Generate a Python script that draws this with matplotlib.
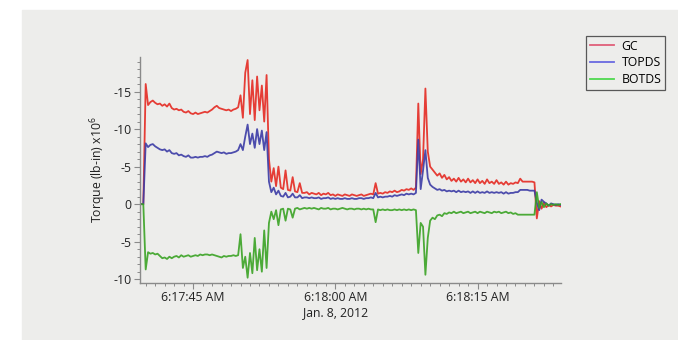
import numpy as np
import matplotlib
matplotlib.use("Agg")
import matplotlib.pyplot as plt
import matplotlib.dates as mdates
from matplotlib.lines import Line2D
from matplotlib.patches import Rectangle

plt.rcParams['font.family'] = ['Open Sans', 'DejaVu Sans']
plt.rcParams['mathtext.default'] = 'regular'

# samples every 0.25 s, first sample at 6:17:39.5
start = np.datetime64('2012-01-08T06:17:39.500')
step_ms = 250

gc = [0.0, 0.0,
      16.0, 13.2, 13.6, 13.8,
      13.5, 13.3, 13.4, 13.1,
      13.3, 13.0, 13.4, 12.8,
      12.6, 12.7, 12.5, 12.6,
      12.3, 12.2, 12.4, 12.1,
      12.0, 12.2, 12.0, 12.1,
      12.2, 12.3, 12.2, 12.4,
      12.6, 12.9, 13.1, 12.8,
      12.7, 12.6, 12.5, 12.6,
      12.4, 12.6, 12.7, 12.9,
      14.5, 11.5, 17.5, 19.2,
      12.0, 16.5, 11.2, 17.0,
      12.5, 15.8, 11.0, 17.2,
      6.0, 3.0, 4.8, 2.4,
      5.0, 2.2, 2.0, 4.5,
      1.9, 1.8, 3.6, 1.7,
      1.6, 2.8, 1.5, 1.5,
      1.6, 1.3, 1.5, 1.4,
      1.3, 1.5, 1.2, 1.4,
      1.3, 1.5, 1.2, 1.3,
      1.1, 1.3, 1.2, 1.1,
      1.3, 1.2, 1.1, 1.3,
      1.2, 1.1, 1.2, 1.3,
      1.1, 1.2, 1.3, 1.4,
      1.3, 2.8, 1.4, 1.5,
      1.4, 1.6, 1.5, 1.7,
      1.6, 1.8, 1.6, 1.7,
      1.9, 1.8, 2.0, 1.9,
      2.1, 1.9, 2.2, 13.4,
      4.0, 6.0, 15.4, 7.0,
      5.0, 4.6, 4.2, 3.8,
      4.1, 3.5, 3.9, 3.3,
      3.6, 3.1, 3.4, 3.0,
      3.5, 3.0, 3.3, 2.9,
      3.4, 2.9, 3.2, 2.8,
      3.3, 2.8, 3.1, 2.7,
      3.3, 2.8, 3.0, 2.7,
      3.2, 2.7, 2.9, 2.6,
      3.0, 2.6, 2.8, 2.7,
      2.9, 2.8, 3.4, 3.0,
      3.0, 3.0, 3.0, 3.0,
      2.9, -1.9, 0.4, -0.6,
      0.2, -0.4, -0.1, -0.3,
      -0.1, -0.2, -0.2, -0.3]

topds = [0.0, 0.0,
         8.1, 7.6, 7.9, 8.0,
         7.7, 7.5, 7.3, 7.2,
         7.3, 7.0, 7.2, 6.8,
         6.7, 6.8, 6.5, 6.6,
         6.4, 6.3, 6.5, 6.2,
         6.2, 6.3, 6.2, 6.3,
         6.3, 6.4, 6.3, 6.5,
         6.6, 6.8, 7.0, 6.9,
         6.8, 6.9, 6.7, 6.8,
         6.8, 6.9, 7.0, 7.2,
         8.0, 7.2, 9.0, 10.6,
         8.0, 9.4, 7.5, 10.0,
         8.0, 9.8, 7.2, 9.6,
         3.0, 1.6, 2.2, 1.3,
         1.8, 1.1, 1.0, 1.5,
         0.9, 1.0, 1.4, 0.9,
         0.9, 1.2, 0.8, 0.9,
         0.9, 0.8, 0.9, 0.8,
         0.8, 0.9, 0.7, 0.8,
         0.8, 0.9, 0.7, 0.8,
         0.7, 0.8, 0.7, 0.7,
         0.8, 0.7, 0.7, 0.8,
         0.7, 0.7, 0.8, 0.8,
         0.7, 0.8, 0.8, 0.9,
         0.8, 1.5, 0.9, 1.0,
         0.9, 1.0, 1.0, 1.1,
         1.0, 1.2, 1.1, 1.2,
         1.3, 1.2, 1.4, 1.3,
         1.4, 1.3, 1.5, 8.6,
         2.0, 4.5, 7.2, 3.5,
         2.6, 2.3, 2.1, 1.9,
         2.0, 1.8, 1.9, 1.7,
         1.8, 1.7, 1.8, 1.6,
         1.8, 1.6, 1.7, 1.6,
         1.7, 1.5, 1.7, 1.5,
         1.7, 1.5, 1.6, 1.5,
         1.7, 1.5, 1.6, 1.5,
         1.6, 1.5, 1.6, 1.4,
         1.6, 1.4, 1.5, 1.5,
         1.6, 1.6, 1.9, 1.9,
         1.9, 1.9, 1.8, 1.8,
         1.8, 0.2, -0.8, 0.6,
         0.3, 0.1, -0.2, 0.1,
         0.0, -0.1, 0.0, -0.1]

botds = [0.0, 0.0,
         -8.7, -6.4, -6.6, -6.5,
         -6.7, -6.6, -6.9, -7.2,
         -7.1, -7.3, -7.0, -7.2,
         -7.0, -6.9, -7.1, -6.8,
         -7.0, -6.9, -6.8, -7.0,
         -6.9, -6.8, -6.9, -6.7,
         -6.8, -6.7, -6.7, -6.8,
         -6.7, -6.8, -6.9, -7.0,
         -7.1, -6.9, -7.0, -6.9,
         -6.9, -6.8, -6.9, -6.8,
         -4.0, -8.5, -7.0, -9.8,
         -6.5, -9.2, -4.5, -8.8,
         -6.0, -9.0, -3.5, -8.5,
         -2.5, -1.0, -2.0, -0.8,
         -2.8, -0.7, -0.6, -2.2,
         -0.6, -0.7, -1.8, -0.6,
         -0.5, -0.7, -0.6, -0.5,
         -0.6, -0.5, -0.6, -0.5,
         -0.6, -0.7, -0.5, -0.6,
         -0.6, -0.5, -0.7, -0.6,
         -0.6, -0.7, -0.6, -0.5,
         -0.6, -0.7, -0.6, -0.6,
         -0.7, -0.6, -0.6, -0.7,
         -0.6, -0.7, -0.6, -0.7,
         -0.7, -2.4, -0.7, -0.8,
         -0.7, -0.8, -0.7, -0.8,
         -0.8, -0.7, -0.8, -0.7,
         -0.8, -0.7, -0.8, -0.7,
         -0.8, -0.7, -0.8, -6.5,
         -2.5, -3.0, -9.4, -4.5,
         -2.2, -1.8, -2.0, -1.5,
         -1.4, -1.6, -1.2, -1.3,
         -1.1, -1.2, -1.0, -1.2,
         -1.1, -1.0, -1.2, -1.1,
         -1.0, -1.2, -1.1, -1.0,
         -1.2, -1.0, -1.1, -1.2,
         -1.0, -1.1, -1.2, -1.0,
         -1.1, -1.0, -1.2, -1.1,
         -1.0, -1.2, -1.1, -1.3,
         -1.2, -1.4, -1.4, -1.4,
         -1.4, -1.4, -1.4, -1.4,
         -1.4, 1.6, -0.5, 0.3,
         -0.4, 0.1, -0.2, 0.0,
         -0.1, 0.0, -0.1, 0.0]

series_names = ['GC', 'TOPDS', 'BOTDS']
line_colors = ['#e52a22', '#3b3ba6', '#3aa324']
legend_colors = ['#e0607a', '#6a6ae0', '#4fd84f']

y_ticks = [15, 10, 5, 0, -5, -10]
y_tick_labels = ['-15', '-10', '-5', '0', '-5', '-10']


def times_for(vals):
    return start + np.arange(len(vals)) * np.timedelta64(step_ms, 'ms')


fig = plt.figure(figsize=(6.78, 3.40), dpi=100)
fig.patch.set_facecolor('white')
# grey backing panel
fig.patches.append(Rectangle((22 / 678, 0), 1 - 22 / 678, 1 - 10 / 340,
                             transform=fig.transFigure, color='#ededeb',
                             zorder=-10))

ax = fig.add_axes([140 / 678, 57 / 340, 421 / 678, 226 / 340])
ax.set_facecolor('none')

for vals, c in zip([gc, topds, botds], line_colors):
    ax.plot(times_for(vals), vals, color=c, lw=1.3, alpha=0.9)

ax.set_xlim(np.datetime64('2012-01-08T06:17:39.400'),
            np.datetime64('2012-01-08T06:18:23.800'))
ax.set_ylim(-10.5, 19.6)

ax.set_yticks(y_ticks)
ax.set_yticklabels(y_tick_labels)
ax.yaxis.set_minor_locator(matplotlib.ticker.MultipleLocator(1))

ax.xaxis.set_major_locator(mdates.SecondLocator(bysecond=[0, 15, 30, 45]))
ax.xaxis.set_minor_locator(mdates.SecondLocator())
ax.xaxis.set_major_formatter(matplotlib.ticker.FuncFormatter(
    lambda x, pos: mdates.num2date(x).strftime('%I:%M:%S %p').lstrip('0')))

for side in ['top', 'right']:
    ax.spines[side].set_visible(False)
for side in ['left', 'bottom']:
    ax.spines[side].set_color('#8a8a8a')
    ax.spines[side].set_linewidth(1.0)

ax.tick_params(which='major', direction='out', length=4, width=0.8,
               color='#8a8a8a', labelsize=8.8, labelcolor='#222222', pad=2)
ax.tick_params(which='minor', direction='out', length=2.5, width=0.7,
               color='#8a8a8a')

ax.set_ylabel('Torque (lb-in) x10$^6$', fontsize=8.8, color='#222222',
              labelpad=4)
fig.text(336 / 678, 1 - 313 / 340, 'Jan. 8, 2012', fontsize=8.8,
         color='#222222', ha='center', va='center')

handles = [Line2D([], [], color=c, lw=1.3) for c in legend_colors]
leg = fig.legend(handles, series_names, loc='upper left',
                 bbox_to_anchor=(586 / 678, 1 - 36 / 340),
                 frameon=True, fancybox=False, fontsize=8.8,
                 handlelength=2.0, handletextpad=0.6, borderpad=0.3,
                 labelspacing=0.3, borderaxespad=0)
leg.get_frame().set_edgecolor('#333333')
leg.get_frame().set_facecolor('none')
leg.get_frame().set_linewidth(0.9)

fig.savefig('out.png', dpi=100)
